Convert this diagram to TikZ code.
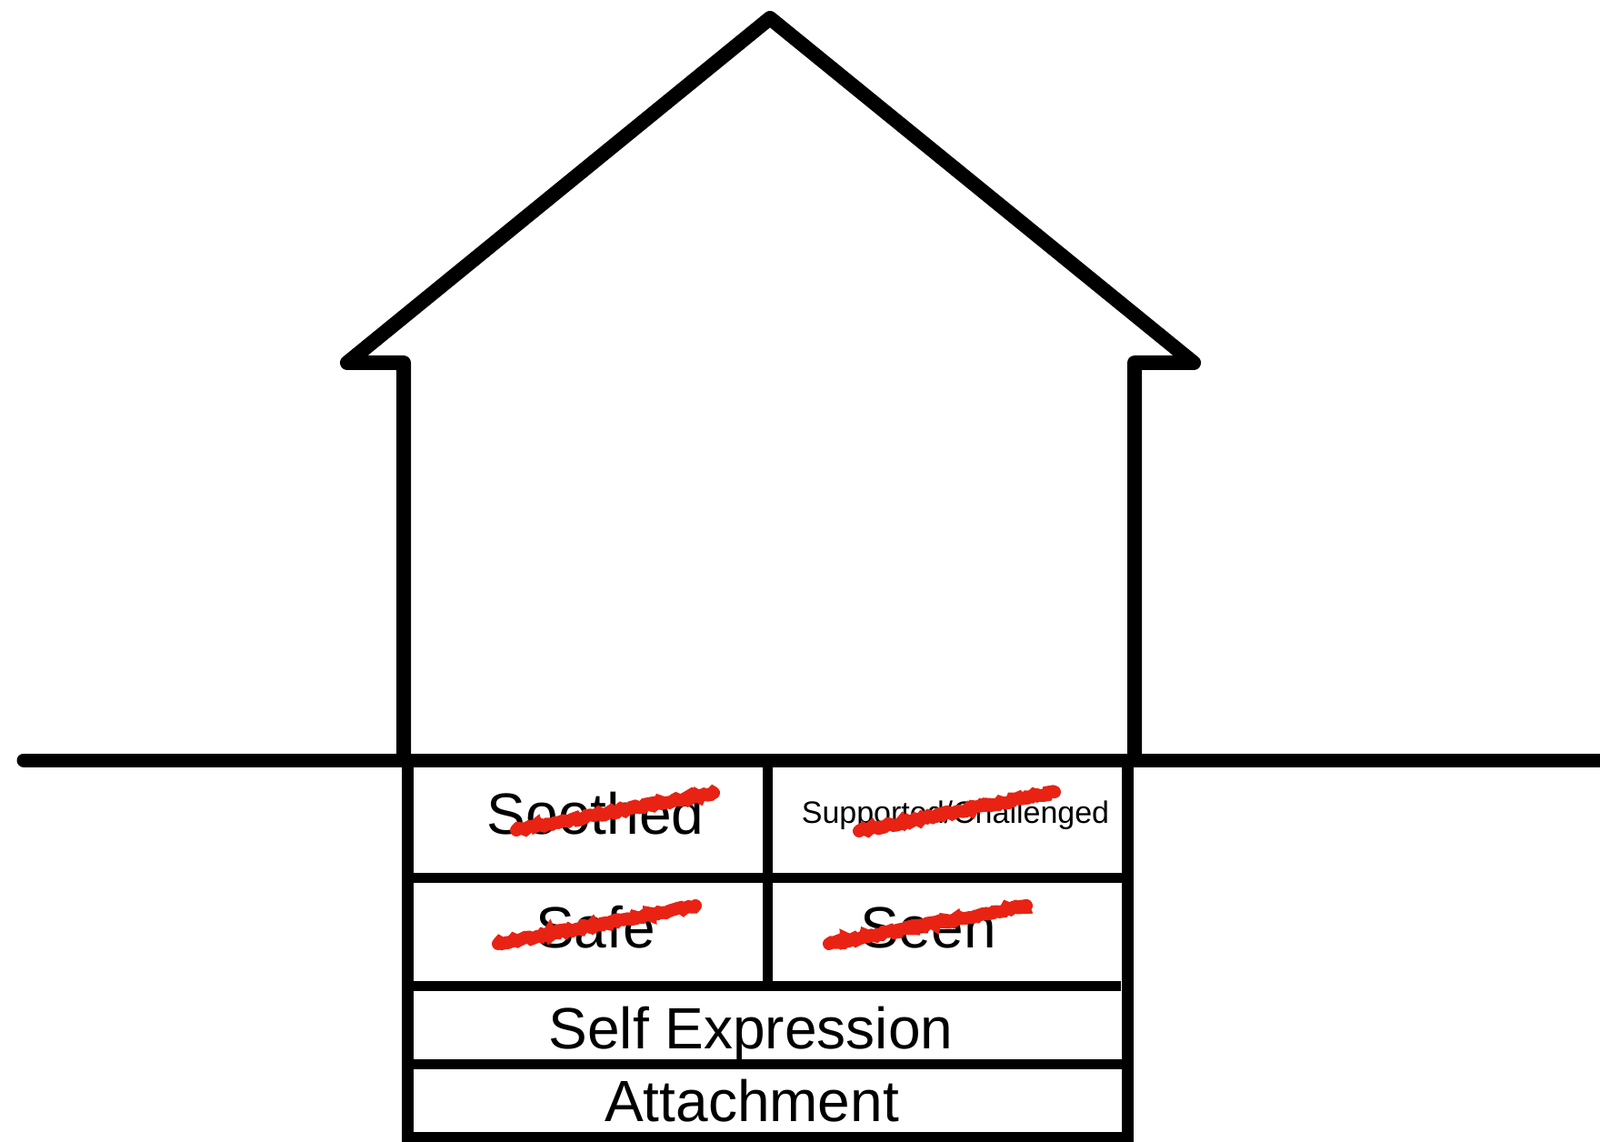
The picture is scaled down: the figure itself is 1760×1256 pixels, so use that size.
\documentclass[tikz,border=0pt]{standalone}
\usepackage{fontspec}
\setmainfont{Liberation Sans}
\usetikzlibrary{decorations.pathmorphing}
\definecolor{houseInk}{RGB}{0,0,0}
\definecolor{strikeRed}{RGB}{232,35,20}

\begin{document}
\begin{tikzpicture}[x=0.5pt,y=-0.5pt]
  \tikzset{
    wall/.style={draw=houseInk,line width=8pt,line join=round,line cap=round},
    slab/.style={draw=houseInk,line width=6.5pt},
    course/.style={draw=houseInk,line width=5.5pt},
    need/.style={font=\fontsize{32}{32}\selectfont,inner sep=0pt,anchor=base},
    needsmall/.style={font=\fontsize{17}{17}\selectfont,inner sep=0pt,anchor=base},
    strike/.style={draw=strikeRed,line width=7pt,line cap=round,
      decorate,decoration={random steps,segment length=1.5pt,amplitude=0.9pt}}
  }
  \useasboundingbox (0,0) rectangle (1760,1256);
  % house outline
  \draw[wall] (444,836) -- (444,399) -- (382,399) -- (847,20)
    -- (1313,399) -- (1248,399) -- (1248,836);
  % ground
  \draw[wall,line width=7.5pt,line cap=butt] (26,836) -- (1760,836);
  \draw[draw=houseInk,line width=7.5pt,line cap=round] (26,836) -- (34,836);
  % foundation
  \draw[slab] (448,836) -- (448,1251) -- (1240,1251) -- (1240,836);
  \draw[course] (448,965) -- (1240,965);
  \draw[course] (448,1084) -- (1233,1084);
  \draw[course] (448,1170) -- (1240,1170);
  \draw[course] (844,836) -- (844,1084);
  % needs
  \node[need] (soothed) at (655,917) {Soothed};
  \node[needsmall] (supported) at (1051,905) {Supported/Challenged};
  \node[need] (safe) at (655,1042) {Safe};
  \node[need] (seen) at (1021,1042) {Seen};
  \node[need] (selfexp) at (826,1153) {Self Expression};
  \node[need] (attach) at (827,1233) {Attachment};
  % crossed out
  \draw[strike] (568,913) -- (785,872);
  \draw[strike] (945,914) -- (1160,871);
  \draw[strike] (548,1038) -- (765,996);
  \draw[strike] (912,1038) -- (1129,996);
\end{tikzpicture}
\end{document}
